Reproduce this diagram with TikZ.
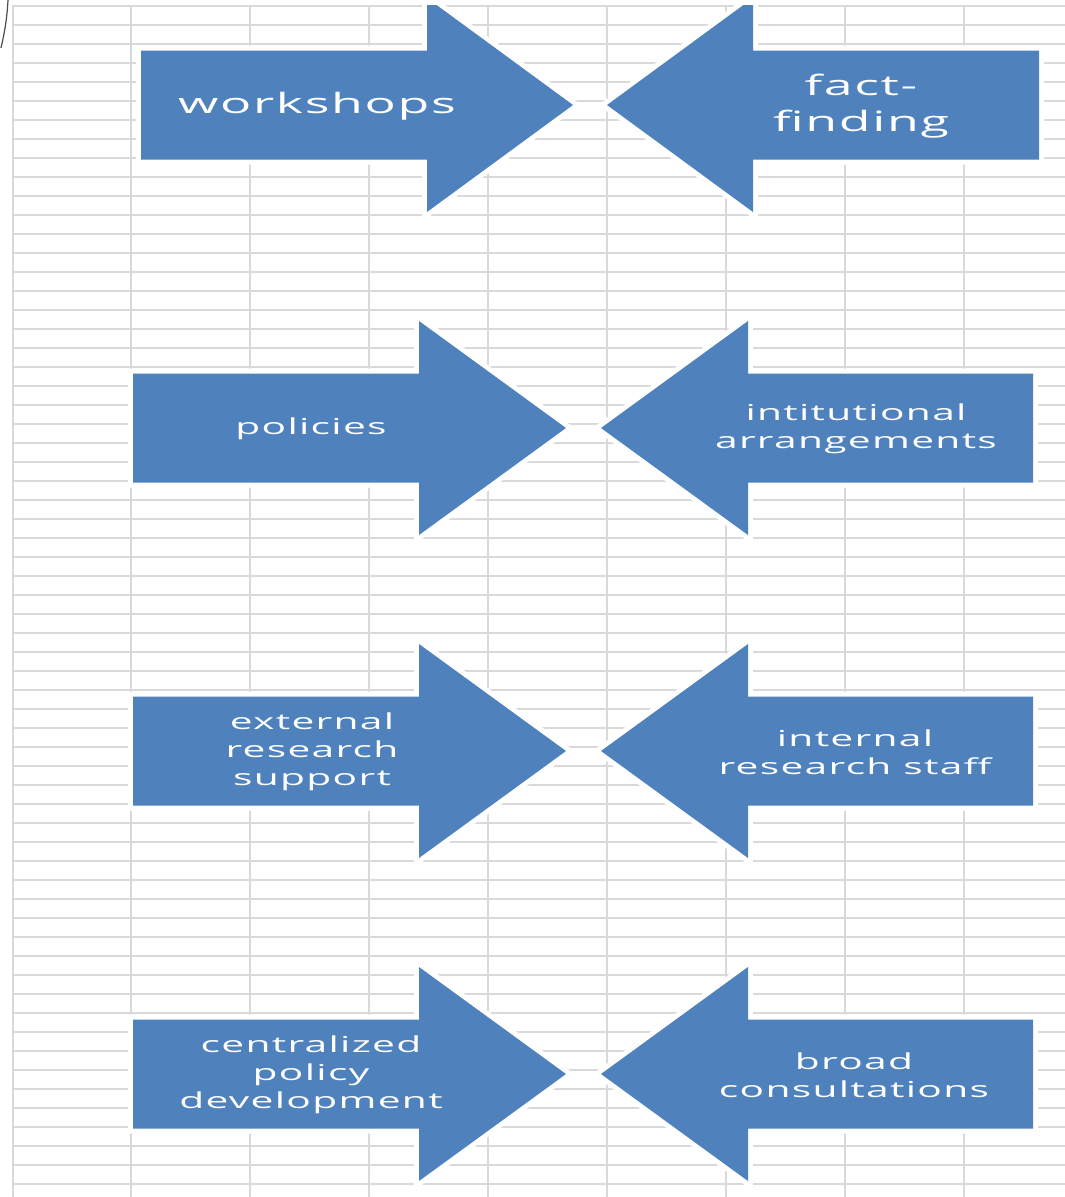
\documentclass[tikz,border=0pt]{standalone}
\usepackage{fontspec}
\newfontfamily\af[FakeStretch=1.85,LetterSpace=6]{Open Sans}
\definecolor{myblue}{HTML}{4F81BD}
\definecolor{gridgray}{HTML}{D9D9D9}
\tikzset{
  gridline/.style={draw=gridgray, line width=2pt},
  arrowshape/.style={fill=myblue, preaction={draw=white, line width=10pt, line join=miter}},
  lbl/.style={text=white, align=center, inner sep=0pt},
  big/.style={lbl, font=\af\fontsize{28}{36}\selectfont},
  small/.style={lbl, font=\af\fontsize{22}{28}\selectfont}
}
% right-pointing arrow: #1 left x, #2 head base x, #3 tip x, #4 centre y
\newcommand{\myrarrow}[4]{%
  \path[arrowshape] (#1,#4-54.5) -- (#2,#4-54.5) -- (#2,#4-107) -- (#3,#4)
    -- (#2,#4+107) -- (#2,#4+54.5) -- (#1,#4+54.5) -- cycle;}
\begin{document}
\begin{tikzpicture}[x=1pt,y=-1pt]
\useasboundingbox (0,0) rectangle (1065,1197);
\fill[white] (0,0) rectangle (1065,1197);
% spreadsheet grid
\foreach \k in {0,...,62} \draw[gridline] (13,6+19*\k) -- (1065,6+19*\k);
\foreach \x in {13,131,250,369,488,607,726,845,964} \draw[gridline] (\x,5) -- (\x,1197);
% corner artefact
\draw[gray!60!black, line width=1.2pt] (8,0) .. controls (7,20) and (4,35) .. (1,48);
\begin{scope}
\clip (0,5) rectangle (1065,1197);
% row 1
\myrarrow{141}{427}{573}{105}
\myrarrow{1039}{753}{607}{105}
% row 2
\myrarrow{133}{419}{566}{428}
\myrarrow{1033}{748}{601}{428}
% row 3
\myrarrow{133}{419}{566}{751}
\myrarrow{1033}{748}{601}{751}
% row 4
\myrarrow{133}{419}{566}{1074}
\myrarrow{1033}{748}{601}{1074}
\end{scope}
\node[big] (t1l) at (317,106) {workshops};
\node[big] (t1r) at (861,106) {fact-\\finding};
\node[small] (t2l) at (311,429) {policies};
\node[small] (t2r) at (856,429) {intitutional\\arrangements};
\node[small] (t3l) at (312,752) {external\\research\\support};
\node[small] (t3r) at (855,752) {internal\\research staff};
\node[small] (t4l) at (311,1075) {centralized\\policy\\development};
\node[small] (t4r) at (854,1075) {broad\\consultations};
\end{tikzpicture}
\end{document}
